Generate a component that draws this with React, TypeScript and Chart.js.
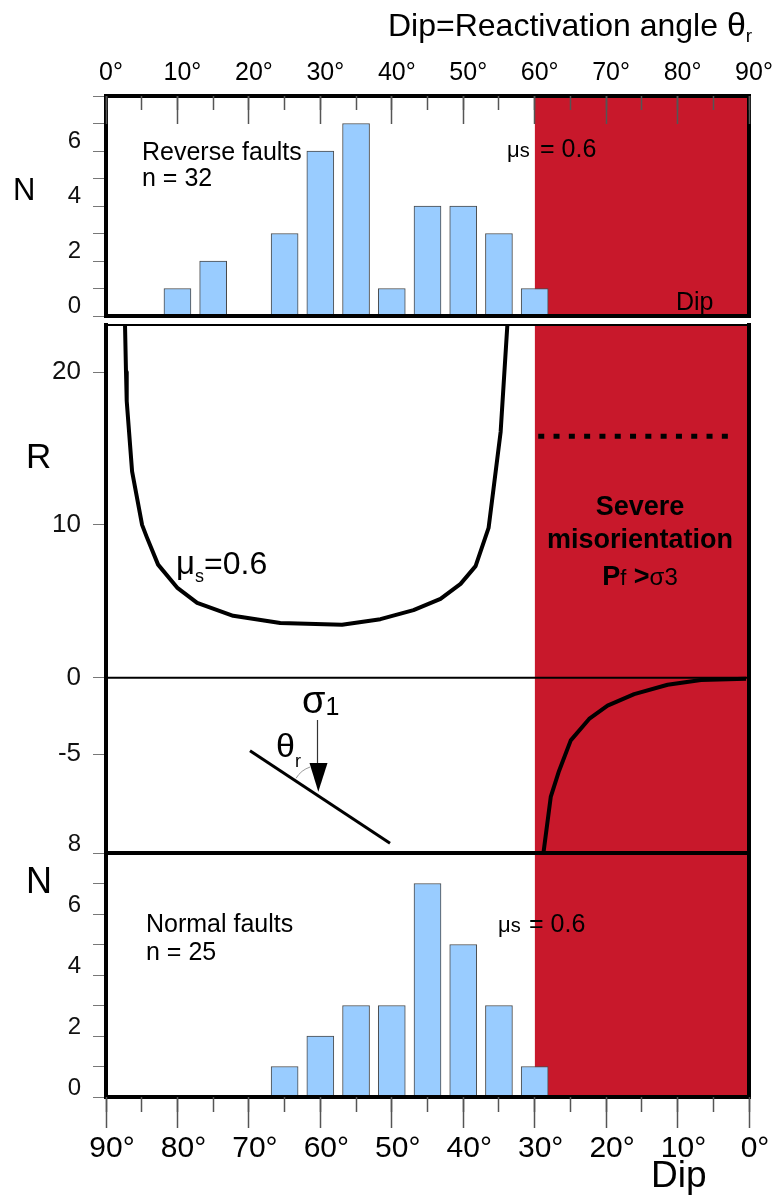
import React, { useEffect, useRef } from 'react';
import { Chart, registerables } from 'chart.js';

Chart.register(...registerables);

// ---------------- data ----------------
const reverseDip = [10, 15, 25, 30, 35, 40, 45, 50, 55, 60];
const reverseCount = [1, 2, 3, 6, 7, 1, 4, 4, 3, 1];

const normalDip = [65, 60, 55, 50, 45, 40, 35, 30];
const normalCount = [1, 2, 3, 3, 7, 5, 3, 1];

// R curve for mu_s = 0.6
const upperTheta = [2.66, 2.8, 2.9, 3.65, 5.05, 5.71, 7.29, 9.95, 12.76, 17.8, 24.39, 33.04, 38.41, 43.04, 46.82, 49.63, 51.73, 53.55, 54.25, 55.24, 56.18];
const upperR = [23.1, 20, 18.1, 13.5, 10, 9.2, 7.4, 5.9, 4.9, 4.05, 3.58, 3.46, 3.83, 4.42, 5.16, 6.14, 7.3, 9.8, 12.4, 16.1, 23.1];
const lowerTheta = [61.22, 62.25, 63.41, 65.05, 67.62, 70.2, 73.93, 78.61, 83.28, 89.59];
const lowerR = [-11.5, -7.8, -6.1, -4.1, -2.7, -1.83, -1.07, -0.46, -0.15, -0.06];

const zeroTheta = [0, 90];
const dottedTheta = [60.5, 87.9];
const dottedR = 15.8;

const severeTheta = [60, 90]; // reactivation angle range (top axis)
const severeDip = [0, 30];    // dip range (bottom axis)

const rTicks = [-5, 0, 10, 20];
const N_MAX = 8;
const R_MIN = -11.47;
const R_MAX = 23.08;

// ---------------- styles ----------------
const FONT = "'Liberation Sans', Arial, Helvetica, sans-serif";
const RED = '#C8182B';
const BAR_FILL = '#99CCFF';
const BAR_EDGE = '#4A4A4A';
const TICK_GREY = '#555555';

const f = (size: number, bold = false) => `${bold ? 'bold ' : ''}${size}px ${FONT}`;

type Seg = { t: string; f: string; dy?: number };
function drawRich(ctx: CanvasRenderingContext2D, x: number, y: number, segs: Seg[], align: 'left' | 'center' = 'left') {
  let total = 0;
  for (const s of segs) { ctx.font = s.f; total += ctx.measureText(s.t).width; }
  let cx = align === 'center' ? x - total / 2 : x;
  ctx.textAlign = 'left';
  for (const s of segs) {
    ctx.font = s.f;
    ctx.fillText(s.t, cx, y + (s.dy || 0));
    cx += ctx.measureText(s.t).width;
  }
}

function framePlugin(w: { t: number; r: number; b: number; l: number }) {
  return {
    id: 'frame',
    afterDatasetsDraw(chart: any) {
      const { ctx, chartArea } = chart;
      const { left, right, top, bottom } = chartArea;
      ctx.save();
      ctx.strokeStyle = '#000';
      ctx.lineCap = 'square';
      const seg = (lw: number, x1: number, y1: number, x2: number, y2: number) => {
        if (!lw) return;
        ctx.lineWidth = lw;
        ctx.beginPath();
        ctx.moveTo(x1, y1);
        ctx.lineTo(x2, y2);
        ctx.stroke();
      };
      seg(w.t, left, top, right, top);
      seg(w.b, left, bottom, right, bottom);
      seg(w.l, left, top, left, bottom);
      seg(w.r, right, top, right, bottom);
      ctx.restore();
    },
  };
}

function textPlugin(offsetY: number, draw: (ctx: CanvasRenderingContext2D, oy: number) => void) {
  return {
    id: 'texts',
    afterDraw(chart: any) {
      const ctx = chart.ctx as CanvasRenderingContext2D;
      ctx.save();
      ctx.fillStyle = '#000';
      ctx.textBaseline = 'alphabetic';
      draw(ctx, offsetY);
      ctx.restore();
    },
  };
}

const baseOptions = {
  animation: false as const,
  responsive: false,
  devicePixelRatio: 1,
  events: [] as any[],
  plugins: { legend: { display: false }, tooltip: { enabled: false } },
};

function nAxis(showTop: boolean, size: number, labelOffset: number) {
  return {
    type: 'linear',
    position: 'left',
    min: 0,
    max: N_MAX,
    ticks: {
      stepSize: 1,
      autoSkip: false,
      callback: (v: number) => (v % 2 === 0 && (showTop || v < N_MAX) ? String(v) : ''),
      font: { family: FONT, size },
      color: '#111',
      padding: 12,
      labelOffset,
    },
    grid: { drawOnChartArea: false, tickLength: 13, tickColor: '#777', tickWidth: 1 },
    border: { display: false },
    afterFit: (s: any) => { s.width = 106; },
  };
}

// tick-only axis (no labels) used for the minor / major tick marks
function tickAxis(position: 'top' | 'bottom', step: number, length: number, weight: number, reverse: boolean) {
  return {
    type: 'linear', position, min: 0, max: 90, reverse, offset: false, weight,
    ticks: { stepSize: step, display: false, autoSkip: false },
    grid: { drawOnChartArea: false, offset: false, tickLength: length, tickColor: TICK_GREY, tickWidth: 1.5, z: 1 },
    border: { display: false },
    afterFit: (s: any) => { s.height = 0; },
  };
}

// ---------------- top panel ----------------
function makeTop(canvas: HTMLCanvasElement) {
  return new Chart(canvas, {
    type: 'bar',
    data: {
      datasets: [
        {
          type: 'bar',
          label: 'Reverse faults',
          data: reverseDip.map((d, i) => ({ x: d, y: reverseCount[i] })),
          backgroundColor: BAR_FILL,
          borderColor: BAR_EDGE,
          borderWidth: 1,
          barThickness: 27,
          xAxisID: 'x',
          yAxisID: 'y',
          order: 1,
        },
        {
          type: 'line',
          label: 'severe',
          data: severeTheta.map((t) => ({ x: t, y: N_MAX })),
          fill: 'origin',
          backgroundColor: RED,
          borderWidth: 0,
          pointRadius: 0,
          xAxisID: 'x',
          yAxisID: 'y',
          order: 2,
        },
      ] as any,
    },
    options: {
      ...baseOptions,
      layout: { padding: { left: 0, right: 27, top: 0, bottom: 28 } },
      scales: {
        x: {
          type: 'linear', position: 'top', min: 0, max: 90, offset: false, weight: 2,
          ticks: { stepSize: 10, autoSkip: false, maxRotation: 0, callback: (v: number) => `${v}°`, font: { family: FONT, size: 25 }, color: '#000', padding: 8, labelOffset: 5 },
          grid: { drawOnChartArea: false, offset: false, drawTicks: false },
          border: { display: false },
          afterFit: (s: any) => { s.height = 96; },
        },
        xMajor: tickAxis('top', 10, -28, 1, false),
        xMinor: tickAxis('top', 5, -14, 0, false),
        y: nAxis(false, 24, -10),
      } as any,
    },
    plugins: [
      framePlugin({ t: 4, r: 4, b: 4, l: 4 }),
      textPlugin(0, (ctx, oy) => {
        drawRich(ctx, 388, 36 - oy, [
          { t: 'Dip=Reactivation angle ', f: f(32) },
          { t: 'θ', f: f(34) },
          { t: 'r', f: f(19), dy: 6 },
        ]);
        ctx.font = f(31);
        ctx.fillText('N', 13, 200 - oy);
        ctx.font = f(25);
        ctx.fillText('Reverse faults', 142, 160 - oy);
        ctx.fillText('n = 32', 142, 186 - oy);
        drawRich(ctx, 507, 157 - oy, [{ t: 'μ', f: f(22) }, { t: 's', f: f(20) }]);
        ctx.font = f(25);
        ctx.fillText('= 0.6', 540, 157 - oy);
        ctx.fillText('Dip', 676, 310 - oy);
      }),
    ] as any,
  });
}

// ---------------- middle panel ----------------
const MID_TOP = 295;

function makeMid(canvas: HTMLCanvasElement) {
  const line = (label: string, xs: number[], ys: number[] | number, extra: any) => ({
    type: 'line',
    label,
    data: xs.map((x, i) => ({ x, y: Array.isArray(ys) ? ys[i] : ys })),
    borderColor: '#000',
    pointRadius: 0,
    tension: 0,
    fill: false,
    borderJoinStyle: 'round',
    xAxisID: 'x',
    yAxisID: 'y',
    ...extra,
  });
  return new Chart(canvas, {
    type: 'line',
    data: {
      datasets: [
        {
          type: 'line',
          label: 'severe',
          data: severeTheta.map((t) => ({ x: t, y: R_MAX })),
          fill: 'start',
          backgroundColor: RED,
          borderWidth: 0,
          pointRadius: 0,
          xAxisID: 'x',
          yAxisID: 'y',
          order: 5,
        },
        line('R = 0', zeroTheta, 0, { borderWidth: 2, order: 3 }),
        line('limit', dottedTheta, dottedR, { borderWidth: 5, borderDash: [6, 9.3], borderCapStyle: 'butt', order: 2 }),
        line('μs=0.6', upperTheta, upperR, { borderWidth: 4, order: 1 }),
        line('μs=0.6 (negative)', lowerTheta, lowerR, { borderWidth: 4, order: 1 }),
      ] as any,
    },
    options: {
      ...baseOptions,
      layout: { padding: { left: 0, right: 27, top: 30, bottom: 30 } },
      scales: {
        x: { type: 'linear', min: 0, max: 90, display: false },
        y: {
          type: 'linear', position: 'left', min: R_MIN, max: R_MAX,
          afterBuildTicks: (s: any) => { s.ticks = rTicks.map((v) => ({ value: v })); },
          ticks: { font: { family: FONT, size: 26 }, color: '#111', padding: 12 },
          grid: { drawOnChartArea: false, tickLength: 13, tickColor: '#777', tickWidth: 1 },
          border: { display: false },
          afterFit: (s: any) => { s.width = 106; },
        },
      } as any,
    },
    plugins: [
      framePlugin({ t: 2, r: 4, b: 4, l: 4 }),
      textPlugin(MID_TOP, (ctx, oy) => {
        ctx.font = f(35);
        ctx.fillText('R', 26, 468 - oy);
        drawRich(ctx, 176, 574 - oy, [
          { t: 'μ', f: f(33) },
          { t: 's', f: f(18), dy: 8 },
          { t: '=0.6', f: f(32) },
        ]);
        ctx.textAlign = 'center';
        ctx.font = f(27, true);
        ctx.fillText('Severe', 640, 515 - oy);
        ctx.fillText('misorientation', 640, 548 - oy);
        drawRich(ctx, 640, 585 - oy, [
          { t: 'P', f: f(27, true) },
          { t: 'f', f: f(22) },
          { t: ' >', f: f(27, true) },
          { t: 'σ', f: f(24) },
          { t: '3', f: f(24) },
        ], 'center');

        // stress / fault sketch
        ctx.strokeStyle = '#000';
        ctx.lineWidth = 3;
        ctx.beginPath();
        ctx.moveTo(250, 750.7 - oy);
        ctx.lineTo(390, 843.3 - oy);
        ctx.stroke();
        ctx.lineWidth = 1.2;
        ctx.strokeStyle = '#333';
        ctx.beginPath();
        ctx.moveTo(317.5, 720 - oy);
        ctx.lineTo(317.5, 766 - oy);
        ctx.stroke();
        ctx.fillStyle = '#000';
        ctx.beginPath();
        ctx.moveTo(309.5, 763 - oy);
        ctx.lineTo(327.5, 763 - oy);
        ctx.lineTo(318.3, 791.7 - oy);
        ctx.closePath();
        ctx.fill();
        ctx.strokeStyle = '#999';
        ctx.lineWidth = 1;
        ctx.beginPath();
        ctx.arc(318.3, 791.7 - oy, 26, (211 * Math.PI) / 180, (252 * Math.PI) / 180);
        ctx.stroke();
        drawRich(ctx, 302, 713 - oy, [{ t: 'σ', f: f(38) }, { t: '1', f: f(25), dy: 2 }]);
        drawRich(ctx, 276, 757 - oy, [{ t: 'θ', f: f(34) }, { t: 'r', f: f(18), dy: 10 }]);
      }),
    ] as any,
  });
}

// ---------------- bottom panel ----------------
function makeBottom(canvas: HTMLCanvasElement) {
  return new Chart(canvas, {
    type: 'bar',
    data: {
      datasets: [
        {
          type: 'bar',
          label: 'Normal faults',
          data: normalDip.map((d, i) => ({ x: d, y: normalCount[i] })),
          backgroundColor: BAR_FILL,
          borderColor: BAR_EDGE,
          borderWidth: 1,
          barThickness: 27,
          xAxisID: 'x',
          yAxisID: 'y',
          order: 1,
        },
        {
          type: 'line',
          label: 'severe',
          data: severeDip.map((d) => ({ x: d, y: N_MAX })),
          fill: 'origin',
          backgroundColor: RED,
          borderWidth: 0,
          pointRadius: 0,
          xAxisID: 'x',
          yAxisID: 'y',
          order: 2,
        },
      ] as any,
    },
    options: {
      ...baseOptions,
      layout: { padding: { left: 0, right: 27, top: 33, bottom: 0 } },
      scales: {
        x: {
          type: 'linear', position: 'bottom', min: 0, max: 90, reverse: true, offset: false, weight: 1,
          ticks: { stepSize: 10, autoSkip: false, maxRotation: 0, callback: (v: number) => `${v}°`, font: { family: FONT, size: 30 }, color: '#000', padding: 3, labelOffset: 6 },
          grid: { drawOnChartArea: false, offset: false, tickLength: 31, tickColor: TICK_GREY, tickWidth: 1.5 },
          border: { display: false },
          afterFit: (s: any) => { s.height = 101; },
        },
        xMinor: tickAxis('bottom', 5, 15, 0, true),
        y: nAxis(true, 24, -9),
      } as any,
    },
    plugins: [
      framePlugin({ t: 4, r: 4, b: 4, l: 4 }),
      textPlugin(820, (ctx, oy) => {
        ctx.font = f(36);
        ctx.fillText('N', 26, 893 - oy);
        ctx.font = f(25);
        ctx.fillText('Normal faults', 146, 932 - oy);
        ctx.fillText('n = 25', 146, 960 - oy);
        drawRich(ctx, 498, 932 - oy, [{ t: 'μ', f: f(22) }, { t: 's', f: f(20) }]);
        ctx.font = f(25);
        ctx.fillText('= 0.6', 529, 932 - oy);
        ctx.font = f(37);
        ctx.fillText('Dip', 651, 1187 - oy);
      }),
    ] as any,
  });
}

export default function App() {
  const aRef = useRef<HTMLCanvasElement>(null);
  const bRef = useRef<HTMLCanvasElement>(null);
  const cRef = useRef<HTMLCanvasElement>(null);

  useEffect(() => {
    const charts = [makeTop(aRef.current!), makeMid(bRef.current!), makeBottom(cRef.current!)];
    return () => charts.forEach((c) => c.destroy());
  }, []);

  const abs = (top: number, height: number): React.CSSProperties => ({
    position: 'absolute', left: 0, top, width: 776, height, display: 'block',
  });

  return (
    <div style={{ position: 'absolute', left: 0, top: 0, width: 776, height: 1198, background: '#fff', overflow: 'hidden' }}>
      <canvas ref={aRef} width={776} height={344} style={abs(0, 344)} />
      <canvas ref={bRef} width={776} height={588} style={abs(MID_TOP, 588)} />
      <canvas ref={cRef} width={776} height={378} style={abs(820, 378)} />
    </div>
  );
}
